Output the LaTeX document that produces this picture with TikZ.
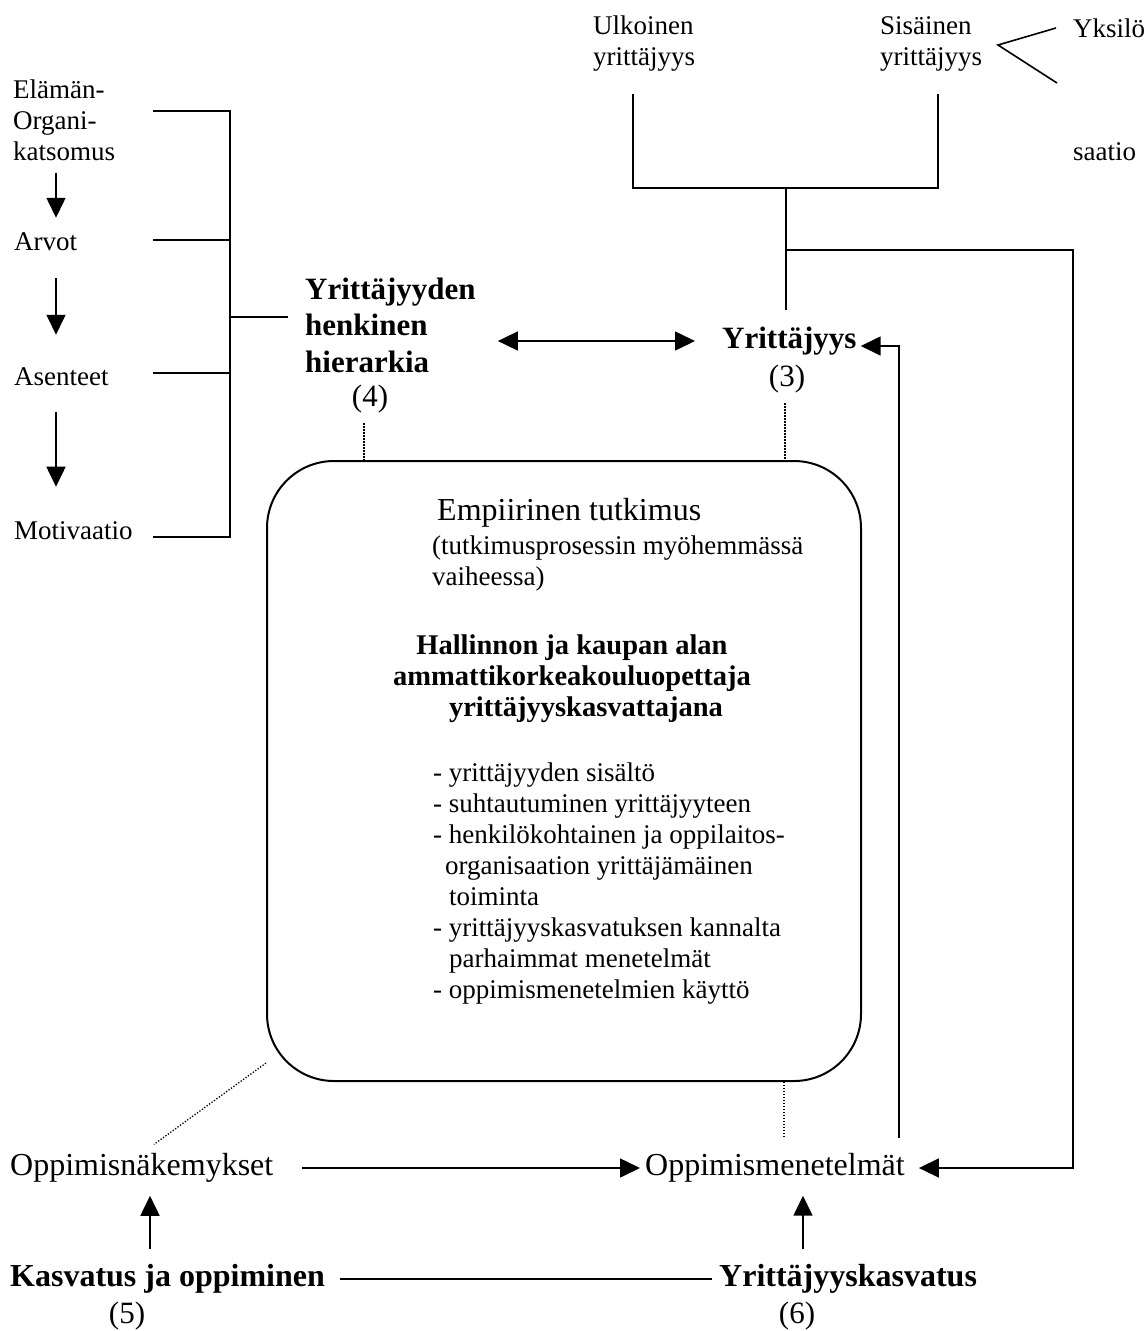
\documentclass[tikz,border=0pt]{standalone}
\usepackage{fontspec}
\setmainfont{Liberation Serif}
\usetikzlibrary{arrows.meta}

\begin{document}
\begin{tikzpicture}[x=1pt,y=-1pt,
  lbl/.style={inner sep=0pt, anchor=west, align=left},
  ctr/.style={inner sep=0pt, align=center},
  rg/.style={font=\fontsize{27}{31}\selectfont},
  rgm/.style={font=\fontsize{31}{36}\selectfont},
  rgl/.style={font=\fontsize{32}{36}\selectfont},
  bd/.style={font=\fontsize{31}{36.5}\selectfont\bfseries},
  bdl/.style={font=\fontsize{32}{36}\selectfont\bfseries},
  bdbox/.style={font=\fontsize{28.5}{31}\selectfont\bfseries},
  ln/.style={line width=1.6pt},
  arr/.style={line width=1.6pt, -{Triangle[length=20pt,width=19pt]}},
  darr/.style={line width=1.6pt, {Triangle[length=20pt,width=19pt]}-{Triangle[length=20pt,width=19pt]}},
  dots/.style={line width=1.3pt, dash pattern=on 1.3pt off 1.7pt}]

\useasboundingbox (0,0) rectangle (1146,1331);

% ---- left column: from world view to motivation
\node[rg, lbl] (elam) at (13,120) {Elämän-\\Organi-\\katsomus};
\node[rg, lbl] (arvot) at (14,242) {Arvot};
\node[rg, lbl] (asen) at (14,377) {Asenteet};
\node[rg, lbl] (moti) at (14,531) {Motivaatio};

\coordinate (colx) at (56,0);
\draw[arr, shorten <=12pt, shorten >=15pt] (elam.south -| colx) -- (arvot.north -| colx);
\draw[arr, shorten <=27pt, shorten >=33pt] (arvot.south -| colx) -- (asen.north -| colx);
\draw[arr, shorten <=26pt, shorten >=35pt] (asen.south -| colx) -- (moti.north -| colx);

% ---- bracket gathering the left column
\coordinate (brTop) at (230,111);
\coordinate (brBot) at (230,537);
\coordinate (brMid) at (230,317);
\draw[ln] ([xshift=-77pt]brTop) -- (brTop) -- (brBot) -- ([xshift=-77pt]brBot);
\draw[ln] (153,240) -- (230,240);
\draw[ln] (153,373) -- (230,373);

% ---- spiritual hierarchy and entrepreneurship
\node[bd, lbl] (hier) at (305,325) {Yrittäjyyden\\henkinen\\hierarkia};
\node[rgm, ctr] (h4) at (370,399) {(4)};
\draw[ln, shorten >=17pt] (brMid) -- (brMid -| hier.west);

\node[bd, lbl] (yrit) at (722,341) {Yrittäjyys};
\node[rgm, ctr] (y3) at (787,379) {(3)};
\draw[darr, shorten <=22pt, shorten >=27pt] (hier.east |- yrit.west) -- (yrit.west);

% ---- outer / inner entrepreneurship
\node[rg, lbl] (ulk) at (593,44) {Ulkoinen\\yrittäjyys};
\node[rg, lbl] (sis) at (880,44) {Sisäinen\\yrittäjyys};
\node[rg, lbl] (yks) at (1073,28) {Yksilö};
\node[rg, lbl] (saa) at (1073,152) {saatio};
\coordinate (vtip) at (998,45);
\draw[ln] ([xshift=-17pt]yks.west) -- (vtip) -- ++(59,38);

\coordinate (jL) at (633,188);
\coordinate (jR) at (938,188);
\coordinate (jM) at (786,188);
\coordinate (brn) at (786,250);
\coordinate (rc) at (1073,250);
\draw[ln, shorten <=22pt, shorten >=22pt] (ulk.south -| jL) -- (jL) -- (jR) -- (sis.south -| jR);
\draw[ln, shorten >=17pt] (jM) -- (yrit.north -| jM);

% ---- central research box
\node[draw, line width=2pt, rounded corners=67pt, minimum width=594pt,
      minimum height=620pt, inner sep=0pt] (box) at (564,771) {};

\node[font=\fontsize{32}{36}\selectfont, lbl] (emp) at (437,513) {Empiirinen tutkimus};
\node[rg, lbl] (vaihe) at (432,563) {(tutkimusprosessin myöhemmässä\\vaiheessa)};
\node[bdbox, ctr] (hall) at (572,679) {Hallinnon ja kaupan alan\\ammattikorkeakouluopettaja\\\hspace*{28pt}yrittäjyyskasvattajana};
\node[rg, lbl] (lista) at (433,884) {- yrittäjyyden sisältö\\
- suhtautuminen yrittäjyyteen\\
- henkilökohtainen ja oppilaitos-\\
\hspace*{12pt}organisaation yrittäjämäinen\\
\hspace*{16pt}toiminta\\
- yrittäjyyskasvatuksen kannalta\\
\hspace*{16pt}parhaimmat menetelmät\\
- oppimismenetelmien käyttö};

\coordinate (dl) at (364,0);
\coordinate (dr) at (785,0);
\coordinate (db) at (784,0);
\draw[dots, shorten <=10pt] (h4.south -| dl) -- (box.north -| dl);
\draw[dots, shorten <=10pt] (y3.south -| dr) -- (box.north -| dr);

% ---- learning conceptions and methods
\node[rgl, lbl] (oppnak) at (10,1168) {Oppimisnäkemykset};
\node[rgl, lbl] (oppmen) at (645,1168) {Oppimismenetelmät};
\node[bdl, lbl] (kasv) at (10,1279) {Kasvatus ja oppiminen};
\node[bdl, lbl] (yk) at (719,1279) {Yrittäjyyskasvatus};
\node[rgm, ctr] (k5) at (127,1316) {(5)};
\node[rgm, ctr] (k6) at (797,1316) {(6)};

\draw[dots, shorten >=15pt] ([yshift=19pt]box.south west) -- (oppnak.north);
\draw[dots, shorten >=16pt] (box.south -| db) -- (oppmen.north -| db);

\draw[arr, shorten <=29pt, shorten >=5pt] (oppnak.east) -- (oppmen.west);
\draw[ln, shorten <=15pt, shorten >=7pt] (kasv.east) -- (yk.west);

\coordinate (ua) at (150,0);
\coordinate (ub) at (803,0);
\draw[arr, shorten <=15pt, shorten >=13pt] (kasv.north -| ua) -- (oppnak.south -| ua);
\draw[arr, shorten <=15pt, shorten >=13pt] (yk.north -| ub) -- (oppmen.south -| ub);

% ---- feedback lines on the right
\coordinate (upx) at (899,0);
\draw[arr, shorten <=15pt, shorten >=4pt] (oppmen.north -| upx) |- ([yshift=-5pt]yrit.east);
\draw[ln] (jM) -- (brn);
\draw[arr, shorten >=14pt] (brn) -- (rc) |- (oppmen.east);

\end{tikzpicture}
\end{document}
